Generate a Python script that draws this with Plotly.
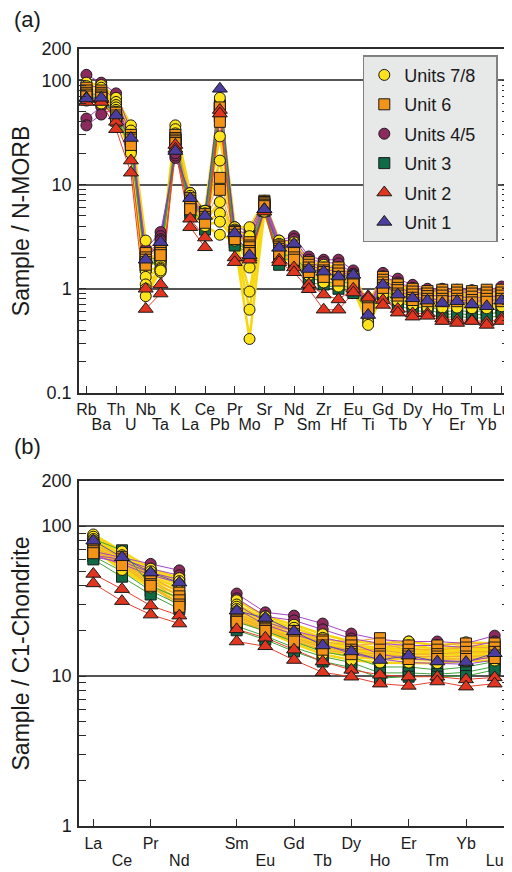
import plotly.graph_objects as go

# ---------------- categories ----------------
elements_nmorb = ["Rb", "Ba", "Th", "U", "Nb", "Ta", "K", "La", "Ce", "Pb", "Pr", "Mo", "Sr", "P",
                  "Nd", "Sm", "Zr", "Hf", "Eu", "Ti", "Gd", "Tb", "Dy", "Y", "Ho", "Er", "Tm", "Yb", "Lu"]
elements_ree = ["La", "Ce", "Pr", "Nd", "Pm", "Sm", "Eu", "Gd", "Tb", "Dy", "Ho", "Er", "Tm", "Yb", "Lu"]
ree_label_row = [0, 1, 0, 1, None, 0, 1, 0, 1, 0, 1, 0, 1, 0, 1]

yticks_a = [0.1, 1, 10, 100, 200]
yticks_b = [1, 10, 100, 200]

# ---------------- (a) N-MORB normalised ----------------
units78_nmorb = [
    [95, 90, 68, 37, 2.9, 1.9, 37, 8.3, 5.6, 68, 3.9, 3.9, 6.8, 2.9, 2.8, 1.8, 1.7, 1.6, 1.35, 0.72, 1.3, 1.1, 1.0, 0.95, 0.95, 0.93, 0.92, 0.92, 0.95],
    [88, 85, 62, 33, 2.2, 1.8, 34, 7.8, 5.3, 50, 3.7, 3.2, 6.5, 2.7, 2.6, 1.7, 1.6, 1.5, 1.3, 0.66, 1.22, 1.02, 0.95, 0.9, 0.9, 0.88, 0.87, 0.87, 0.9],
    [82, 78, 58, 30, 1.8, 1.7, 31, 7.2, 5.0, 29, 3.5, 2.6, 6.2, 2.6, 2.4, 1.6, 1.5, 1.4, 1.25, 0.62, 1.15, 0.97, 0.9, 0.85, 0.85, 0.84, 0.83, 0.83, 0.86],
    [78, 72, 55, 28, 1.5, 1.6, 29, 6.8, 4.7, 17, 3.3, 2.0, 6.0, 2.5, 2.2, 1.55, 1.4, 1.3, 1.2, 0.58, 1.08, 0.92, 0.85, 0.8, 0.8, 0.8, 0.79, 0.79, 0.82],
    [74, 68, 52, 25, 1.3, 1.55, 27, 6.4, 4.5, 6.8, 3.2, 1.6, 5.8, 2.3, 2.1, 1.5, 1.35, 1.25, 1.15, 0.55, 1.02, 0.88, 0.82, 0.77, 0.77, 0.76, 0.75, 0.75, 0.78],
    [70, 64, 50, 23, 1.1, 1.5, 25, 6.0, 4.3, 5.3, 3.1, 0.94, 5.6, 2.2, 2.0, 1.45, 1.3, 1.2, 1.1, 0.52, 0.97, 0.84, 0.78, 0.74, 0.74, 0.73, 0.72, 0.72, 0.75],
    [67, 62, 48, 21, 1.0, 1.45, 24, 5.7, 4.1, 4.4, 3.0, 0.63, 5.5, 2.1, 1.9, 1.4, 1.2, 1.1, 1.05, 0.48, 0.92, 0.8, 0.74, 0.7, 0.7, 0.7, 0.68, 0.68, 0.71],
    [64, 60, 46, 20, 0.85, 1.5, 22, 5.5, 4.0, 3.3, 2.9, 0.33, 5.5, 2.0, 1.8, 1.35, 1.15, 1.05, 1.0, 0.45, 0.88, 0.76, 0.7, 0.66, 0.66, 0.66, 0.65, 0.65, 0.68],
]
unit6_nmorb = [
    [85, 80, 49, 30, 2.2, 2.5, 30, 7.4, 5.2, 55, 3.6, 2.8, 7.0, 2.6, 2.6, 1.8, 1.6, 1.6, 1.3, 0.75, 1.3, 1.1, 1.0, 0.95, 0.98, 0.98, 0.95, 0.98, 0.98],
    [80, 76, 46, 28, 2.0, 2.4, 28, 7.0, 4.9, 45, 3.5, 2.6, 6.8, 2.5, 2.4, 1.7, 1.5, 1.5, 1.25, 0.72, 1.22, 1.02, 0.94, 0.9, 0.92, 0.92, 0.9, 0.92, 0.92],
    [76, 73, 44, 27, 1.9, 2.3, 27, 6.6, 4.7, 11.6, 3.3, 2.5, 6.6, 2.4, 2.2, 1.6, 1.45, 1.4, 1.2, 0.7, 1.15, 0.97, 0.88, 0.85, 0.86, 0.86, 0.84, 0.86, 0.86],
    [73, 70, 42, 25, 1.8, 2.2, 26, 6.2, 4.5, 8.9, 3.1, 2.3, 6.4, 2.3, 2.0, 1.5, 1.35, 1.3, 1.15, 0.68, 1.08, 0.9, 0.82, 0.8, 0.8, 0.8, 0.78, 0.8, 0.8],
    [70, 68, 41, 24, 1.7, 2.1, 25, 5.8, 4.3, 40, 3.0, 2.2, 6.2, 2.2, 1.9, 1.45, 1.3, 1.2, 1.1, 0.65, 1.02, 0.86, 0.78, 0.76, 0.76, 0.76, 0.74, 0.75, 0.76],
]
units45_nmorb = [
    [113, 95, 75, 33, 2.4, 3.5, 18, 8.3, 5.6, 60, 3.9, 3.6, 7.0, 2.9, 3.2, 2.04, 1.9, 1.9, 1.5, 0.62, 1.42, 1.25, 1.09, 1.0, 1.0, 0.98, 0.97, 0.97, 1.05],
    [90, 85, 65, 30, 2.2, 3.2, 20, 7.6, 5.3, 52, 3.7, 3.3, 6.8, 2.8, 3.0, 1.9, 1.8, 1.75, 1.4, 0.6, 1.32, 1.15, 1.02, 0.95, 0.95, 0.93, 0.92, 0.92, 0.98],
    [43, 56, 58, 28, 2.0, 3.0, 19, 7.0, 5.0, 47, 3.6, 3.0, 6.5, 2.6, 2.7, 1.8, 1.6, 1.6, 1.35, 0.58, 1.2, 1.02, 0.92, 0.87, 0.85, 0.83, 0.82, 0.82, 0.86],
    [37, 47, 55, 27, 1.9, 2.9, 20, 6.5, 4.8, 44, 3.4, 2.8, 6.3, 2.5, 2.5, 1.7, 1.5, 1.5, 1.3, 0.56, 1.12, 0.95, 0.85, 0.8, 0.78, 0.77, 0.76, 0.76, 0.8],
]
unit3_nmorb = [
    [75, 72, 47, 26, 1.8, 2.1, 27, 6.0, 5.5, 58, 3.0, 2.4, 6.4, 2.1, 2.1, 1.4, 1.3, 1.2, 1.1, 0.68, 1.0, 0.8, 0.72, 0.7, 0.6, 0.62, 0.6, 0.62, 0.65],
    [70, 68, 44, 24, 1.7, 2.0, 25, 5.6, 4.5, 55, 2.8, 2.3, 6.0, 1.9, 1.95, 1.25, 1.2, 1.1, 1.0, 0.65, 0.92, 0.75, 0.67, 0.65, 0.56, 0.58, 0.56, 0.57, 0.6],
    [66, 64, 42, 23, 1.6, 1.9, 24, 5.3, 3.7, 52, 2.6, 2.2, 5.6, 1.7, 1.8, 1.14, 1.1, 1.0, 0.91, 0.62, 0.85, 0.7, 0.62, 0.6, 0.52, 0.55, 0.52, 0.53, 0.55],
]
unit2_nmorb = [
    [68, 66, 40, 17, 1.0, 1.1, 24, 4.7, 3.1, 52, 2.0, 2.0, 5.8, 1.9, 1.6, 1.1, 0.88, 0.79, 1.0, 0.85, 0.78, 0.64, 0.58, 0.58, 0.52, 0.5, 0.5, 0.48, 0.52],
    [62, 62, 34, 13, 0.64, 0.9, 22, 3.9, 2.5, 48, 1.8, 1.9, 5.5, 1.8, 1.44, 0.99, 0.63, 0.63, 0.92, 0.82, 0.70, 0.59, 0.54, 0.55, 0.49, 0.47, 0.49, 0.45, 0.49],
]
unit1_nmorb = [
    [67, 68, 46, 28, 1.9, 2.8, 21, 7.4, 5.0, 83, 3.4, 2.1, 5.8, 2.47, 2.7, 1.55, 1.46, 1.31, 1.36, 0.56, 1.09, 0.88, 0.81, 0.77, 0.73, 0.76, 0.71, 0.68, 0.77],
]

# ---------------- (b) C1-chondrite normalised (Pm = None) ----------------
units78_ree = [
    [88, 68, 52, 45, None, 32, 25, 22, 19, 17, 16.5, 17, 16, 16.8, 16.5],
    [85, 64, 50, 43, None, 30, 24, 21, 18, 16, 15.5, 16, 15.2, 16, 15.8],
    [82, 62, 48, 41, None, 29, 23, 20, 17, 15.5, 15, 15.2, 14.8, 15.3, 15.2],
    [80, 60, 46, 39, None, 28, 22, 19, 16.5, 15, 14.5, 14.7, 14.3, 14.8, 14.7],
    [78, 57, 44, 37, None, 27, 21.5, 18.5, 16, 14.5, 14, 14.2, 13.8, 14.2, 14.2],
    [75, 55, 42, 35, None, 26, 21, 18, 15.5, 14, 13.5, 13.6, 13.3, 13.7, 13.8],
    [73, 53, 40, 33, None, 25, 20.5, 17.2, 14.8, 13.4, 13, 13, 12.8, 13.2, 13.3],
    [70, 51, 39, 31, None, 24, 20, 16.5, 14, 12.8, 12.3, 12.3, 12.2, 12.6, 12.7],
]
unit6_ree = [
    [75, 62, 46, 36, None, 26, 22, 20, 17.5, 17, 17.9, 16, 16, 16.5, 16.5],
    [72, 60, 44, 34, None, 25, 21.5, 19, 17, 16, 16.5, 15, 15, 15.5, 15.5],
    [70, 58, 43, 32, None, 24.4, 21, 18, 16, 15, 15, 14, 14, 14.5, 14.5],
    [68, 57, 41, 30, None, 23.5, 20.5, 17.5, 15.5, 14.5, 14, 13.5, 13.5, 13.5, 13.7],
    [66, 55, 40, 29, None, 23, 20, 17, 15, 14, 13.5, 13, 13, 13, 13.2],
]
units45_ree = [
    [68, 62, 56, 50.7, None, 35.5, 26.6, 25.3, 22.4, 19.2, 17.5, 17, 17, 16.5, 18.6],
    [64, 60, 52, 47, None, 33, 25, 23.5, 20.5, 17.8, 16.5, 16, 16, 15.5, 17],
    [62, 58, 49, 44, None, 30, 23, 20, 18, 16.5, 14, 13, 12.8, 12.5, 13.5],
    [64, 56, 47, 42, None, 28, 22, 19, 16.5, 14, 13, 12.3, 12.1, 12, 12.8],
]
unit3_ree = [
    [82, 69, 40, 33, None, 23, 20, 17, 14.5, 13.5, 11.5, 11.5, 11, 11.5, 12.5],
    [63, 50, 37, 30, None, 21.5, 18.5, 15.5, 13.5, 12.3, 10.5, 10.5, 10.3, 10.6, 11.6],
    [60, 46, 35, 28, None, 20.2, 17.5, 14.6, 12.5, 11.4, 9.7, 9.9, 9.9, 10, 11],
]
unit2_ree = [
    [48, 38, 29.5, 25.3, None, 20.5, 18, 15, 12.5, 11, 10.2, 9.9, 9.9, 9.5, 9.8],
    [41.5, 31.6, 25.7, 22.4, None, 17, 15.8, 12.8, 10.6, 9.9, 8.9, 8.6, 9.2, 8.5, 8.9],
]
unit1_ree = [
    [80, 62, 49, 42, None, 27.3, 24.4, 19.9, 16, 14.6, 12.8, 13.7, 12.5, 12.4, 14.2],
]

unit_names = ["Units 7/8", "Unit 6", "Units 4/5", "Unit 3", "Unit 2", "Unit 1"]
nmorb_sets = [units78_nmorb, unit6_nmorb, units45_nmorb, unit3_nmorb, unit2_nmorb, unit1_nmorb]
ree_sets = [units78_ree, unit6_ree, units45_ree, unit3_ree, unit2_ree, unit1_ree]

# styles
styles = {
    "Units 7/8": dict(symbol="circle", fill="#FFE31A", line="#F7D712", lw=2.6, size=11),
    "Unit 6": dict(symbol="square", fill="#F39419", line="#F2A43A", lw=1.0, size=11),
    "Units 4/5": dict(symbol="circle", fill="#8C2A5E", line="#A645C8", lw=1.0, size=11),
    "Unit 3": dict(symbol="square", fill="#0E6B46", line="#3FA63A", lw=1.0, size=11),
    "Unit 2": dict(symbol="triangle-up", fill="#E0351F", line="#E8402C", lw=1.0, size=13),
    "Unit 1": dict(symbol="triangle-up", fill="#4B3D9E", line="#5B4AB0", lw=1.0, size=13),
}
line_order = ["Units 7/8", "Unit 6", "Units 4/5", "Unit 3", "Unit 2", "Unit 1"]
marker_order = ["Units 4/5", "Unit 3", "Units 7/8", "Unit 6", "Unit 2", "Unit 1"]

fig = go.Figure()


def add_panel(sets, cats, xa, ya, legend):
    lookup = dict(zip(unit_names, sets))
    xs = list(range(len(cats)))
    for name in line_order:
        st = styles[name]
        for sample in lookup[name]:
            fig.add_trace(go.Scatter(
                x=xs, y=sample, mode="lines", xaxis=xa, yaxis=ya,
                line=dict(color=st["line"], width=st["lw"]),
                connectgaps=False, showlegend=False, hoverinfo="skip"))
    for name in marker_order:
        st = styles[name]
        mx, my = [], []
        for sample in lookup[name]:
            for i, v in enumerate(sample):
                if v is not None:
                    mx.append(i)
                    my.append(v)
        fig.add_trace(go.Scatter(
            x=mx, y=my, mode="markers", xaxis=xa, yaxis=ya,
            name=name + "\u00a0\u00a0\u00a0",
            legendgroup=name, legendrank=unit_names.index(name) + 1,
            showlegend=legend,
            marker=dict(symbol=st["symbol"], size=st["size"], color=st["fill"],
                        line=dict(color="#1a1a1a", width=1))))


add_panel(nmorb_sets, elements_nmorb, "x", "y", True)
add_panel(ree_sets, elements_ree, "x2", "y2", False)

# empty traces so that the overlay axes carrying the second label row are drawn
fig.add_trace(go.Scatter(x=[], y=[], xaxis="x3", yaxis="y", showlegend=False, hoverinfo="skip"))
fig.add_trace(go.Scatter(x=[], y=[], xaxis="x4", yaxis="y2", showlegend=False, hoverinfo="skip"))

# two rows of element labels
upper_a = [i for i in range(len(elements_nmorb)) if i % 2 == 0]
lower_a = [i for i in range(len(elements_nmorb)) if i % 2 == 1]
upper_b = [i for i, r in enumerate(ree_label_row) if r == 0]
lower_b = [i for i, r in enumerate(ree_label_row) if r == 1]


def minor_vals(lo_exp, hi_exp):
    vals = []
    for k in range(lo_exp, hi_exp):
        for m in range(2, 10):
            vals.append(m * 10 ** k)
    return vals


font = "Liberation Sans, Arial, sans-serif"
axcol = "#2b2b2b"
tickfont_x = dict(size=16, color="#1a1a1a", family=font)

xcommon = dict(showline=True, linecolor=axcol, linewidth=1.5, mirror=True,
               ticks="inside", ticklen=7, tickcolor=axcol, tickwidth=1.2,
               showgrid=False, zeroline=False, tickmode="array", automargin=False,
               ticklabeloverflow="allow", tickfont=tickfont_x, tickangle=0)
xover = dict(showline=False, ticks="", showgrid=False, zeroline=False, tickmode="array",
             automargin=False, ticklabeloverflow="allow", tickfont=tickfont_x, tickangle=0)
ycommon = dict(type="log", showline=True, linecolor=axcol, linewidth=1.5, mirror="allticks",
               ticks="inside", ticklen=7, tickcolor=axcol, tickwidth=1.2,
               showgrid=True, gridcolor="#555555", gridwidth=1.5, zeroline=False,
               tickmode="array", ticklabelstandoff=2, automargin=False,
               tickfont=dict(size=18, color="#1a1a1a", family=font))

# page body has an 8px margin -> figure drawn 8px right/down; size chosen to fill 512x872
fig.update_layout(
    width=504, height=864,
    margin=dict(l=71, r=3, t=41, b=46),
    paper_bgcolor="white", plot_bgcolor="white",
    font=dict(family=font, color="#1a1a1a"),
    xaxis=dict(domain=[0, 1], anchor="y", range=[-0.5, 28.5],
               tickvals=upper_a, ticktext=[elements_nmorb[i] for i in upper_a],
               ticklabelstandoff=1, **xcommon),
    xaxis3=dict(overlaying="x", anchor="y", side="bottom", range=[-0.5, 28.5],
                tickvals=lower_a, ticktext=[elements_nmorb[i] for i in lower_a],
                ticklabelstandoff=20, **xover),
    yaxis=dict(domain=[0.5573, 1.0], anchor="x", range=[-1, 2.30103],
               tickvals=yticks_a, ticktext=["0.1", "1", "10", "100", "200"],
               minor=dict(tickmode="array", tickvals=minor_vals(-1, 2), ticks="inside",
                          ticklen=7, tickcolor=axcol, tickwidth=1.2, showgrid=False),
               title=dict(text="Sample / N-MORB", font=dict(size=23, family=font), standoff=8),
               **ycommon),
    xaxis2=dict(domain=[0, 1], anchor="y2", range=[-0.5, 14.5],
                tickvals=upper_b, ticktext=[elements_ree[i] for i in upper_b],
                ticklabelstandoff=2, **xcommon),
    xaxis4=dict(overlaying="x2", anchor="y2", side="bottom", range=[-0.5, 14.5],
                tickvals=lower_b, ticktext=[elements_ree[i] for i in lower_b],
                ticklabelstandoff=23, **xover),
    yaxis2=dict(domain=[0.0, 0.444], anchor="x2", range=[0, 2.30103],
                tickvals=yticks_b, ticktext=["1", "10", "100", "200"],
                minor=dict(tickmode="array", tickvals=minor_vals(0, 2), ticks="inside",
                           ticklen=7, tickcolor=axcol, tickwidth=1.2, showgrid=False),
                title=dict(text="Sample / C1-Chondrite", font=dict(size=23, family=font), standoff=8),
                **ycommon),
    legend=dict(x=0.66, y=0.992, xanchor="left", yanchor="top",
                bgcolor="#e7e8e8", bordercolor="#808080", borderwidth=1.5,
                font=dict(size=18, family=font, color="#1a1a1a"),
                traceorder="grouped", tracegroupgap=3, itemwidth=30),
    annotations=[
        dict(text="(a)", xref="paper", yref="paper", x=-0.155, y=1.038, xanchor="left",
             yanchor="middle", showarrow=False, font=dict(size=22, family=font)),
        dict(text="(b)", xref="paper", yref="paper", x=-0.155, y=0.489, xanchor="left",
             yanchor="middle", showarrow=False, font=dict(size=22, family=font)),
    ],
)

fig.write_html("out.html")
